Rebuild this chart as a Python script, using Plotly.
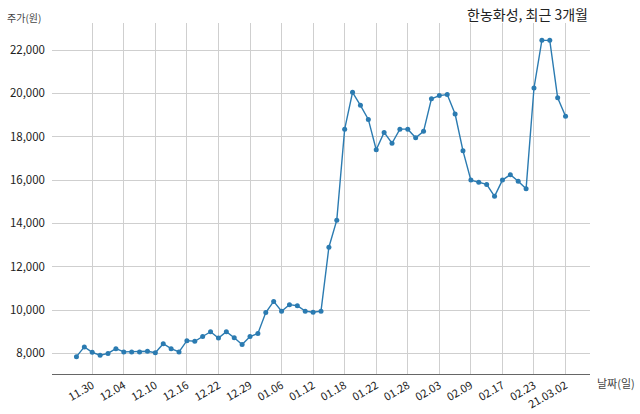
import plotly.graph_objects as go

dates = ["11.26", "11.27", "11.30", "12.01", "12.02", "12.03", "12.04", "12.07", "12.08", "12.09",
         "12.10", "12.11", "12.14", "12.15", "12.16", "12.17", "12.18", "12.21", "12.22", "12.23",
         "12.24", "12.28", "12.29", "12.30", "01.04", "01.05", "01.06", "01.07", "01.08", "01.11",
         "01.12", "01.13", "01.14", "01.15", "01.18", "01.19", "01.20", "01.21", "01.22", "01.25",
         "01.26", "01.27", "01.28", "01.29", "02.01", "02.02", "02.03", "02.04", "02.05", "02.08",
         "02.09", "02.10", "02.15", "02.16", "02.17", "02.18", "02.19", "02.22", "02.23", "02.24",
         "02.25", "02.26", "03.02"]

prices = [7850, 8300, 8050, 7920, 8000, 8220, 8070, 8070, 8070, 8100,
          8030, 8450, 8220, 8070, 8590, 8560, 8780, 9000, 8710, 9000,
          8720, 8410, 8780, 8920, 9890, 10400, 9950, 10250, 10200, 9950,
          9900, 9950, 12900, 14150, 18350, 20050, 19450, 18800, 17400, 18200,
          17700, 18350, 18350, 17950, 18250, 19750, 19900, 19950, 19050, 17350,
          16000, 15900, 15800, 15250, 16000, 16250, 15950, 15600, 20250, 22450,
          22450, 19800, 18950]

tick_dates = ["11.30", "12.04", "12.10", "12.16", "12.22", "12.29", "01.06", "01.12",
              "01.18", "01.22", "01.28", "02.03", "02.09", "02.17", "02.23", "03.02"]
tick_text = ["11.30", "12.04", "12.10", "12.16", "12.22", "12.29", "01.06", "01.12",
             "01.18", "01.22", "01.28", "02.03", "02.09", "02.17", "02.23", "21.03.02"]

y_ticks = [8000, 10000, 12000, 14000, 16000, 18000, 20000, 22000]

FONT = "Noto Sans CJK KR"

fig = go.Figure(go.Scatter(
    x=dates, y=prices, mode="lines+markers",
    line=dict(color="#2b7bb1", width=1.4),
    marker=dict(color="#2b7bb1", size=5),
    hoverinfo="x+y",
))

fig.update_layout(
    width=640, height=414,
    margin=dict(l=52, r=50, t=23, b=40, autoexpand=False),
    paper_bgcolor="white", plot_bgcolor="white",
    showlegend=False,
    font=dict(family=FONT, size=11, color="#222222"),
    xaxis=dict(
        type="category", categoryorder="array", categoryarray=dates,
        range=[-3.1, 65.1], automargin=False,
        tickmode="array", tickvals=tick_dates, ticktext=tick_text,
        tickangle=-30, ticks="", showgrid=True, gridcolor="#cfcfcf", gridwidth=1,
        showline=True, linecolor="#666666", linewidth=1, zeroline=False,
        tickfont=dict(family=FONT, size=11, color="#222222"),
    ),
    yaxis=dict(
        range=[7050, 23250], automargin=False,
        tickmode="array", tickvals=y_ticks, tickformat=",d",
        ticks="", showgrid=True, gridcolor="#cfcfcf", gridwidth=1,
        showline=False, zeroline=False, ticklabelstandoff=6,
        tickfont=dict(family=FONT, size=11.5, color="#222222"),
    ),
    annotations=[
        dict(text="한농화성, 최근 3개월", xref="paper", yref="paper", x=1.0, y=1.026,
             xanchor="right", yanchor="middle", showarrow=False,
             font=dict(family=FONT, size=14, color="#222222")),
        dict(text="주가(원)", xref="paper", yref="paper", x=-0.017, y=1.017,
             xanchor="right", yanchor="middle", showarrow=False,
             font=dict(family=FONT, size=10, color="#444444")),
        dict(text="날짜(일)", xref="paper", yref="paper", x=1.009, y=-0.026,
             xanchor="left", yanchor="middle", showarrow=False,
             font=dict(family=FONT, size=11, color="#444444")),
    ],
)

fig.write_html("out.html", config={"displayModeBar": False},
               post_script="document.body.style.margin='0';document.body.style.padding='0';")
